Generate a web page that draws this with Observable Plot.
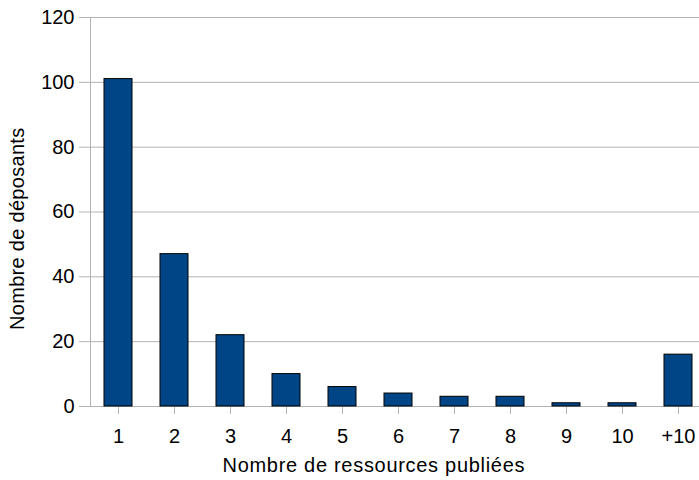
<!DOCTYPE html>
<html>
<head>
<meta charset="utf-8">
<script src="https://cdn.jsdelivr.net/npm/d3@7"></script>
<script src="https://cdn.jsdelivr.net/npm/@observablehq/plot@0.6"></script>
<style>
  html, body { margin: 0; padding: 0; background: #fff; }
  #chart svg { display: block; }
</style>
</head>
<body>
<div id="chart"></div>
<script>
const categories = ["1", "2", "3", "4", "5", "6", "7", "8", "9", "10", "+10"];
const counts = [101, 47, 22, 10, 6, 4, 3, 3, 1, 1, 16];
const yTicks = [0, 20, 40, 60, 80, 100, 120];
const xTitle = "Nombre de ressources publiées";
const yTitle = "Nombre de déposants";

const data = categories.map((c, i) => ({cat: c, n: counts[i]}));
const grey = "#b3b3b3";
const font = "Liberation Sans, Arial, sans-serif";

const chart = Plot.plot({
  width: 699,
  height: 480,
  marginLeft: 90,
  marginRight: 0,
  marginTop: 17,
  marginBottom: 74,
  style: {fontFamily: font, fontSize: "20px", color: "#000", background: "#fff"},
  x: {type: "band", domain: categories, range: [90, 706], paddingInner: 0.5, paddingOuter: 0.25, label: null},
  y: {domain: [0, 120], label: null},
  marks: [
    Plot.gridY(yTicks, {stroke: grey, strokeOpacity: 1, strokeWidth: 1}),
    Plot.axisY(yTicks, {tickSize: 11, tickPadding: 5, stroke: grey, strokeOpacity: 1, fill: "#000", fontSize: 20}),
    Plot.axisX({tickSize: 8, tickPadding: 14, stroke: grey, strokeOpacity: 1, fill: "#000", fontSize: 20}),
    Plot.frame({anchor: "left", stroke: grey}),
    Plot.barY(data, {x: "cat", y: "n", fill: "#004586", stroke: "#000", strokeWidth: 1}),
    Plot.text([xTitle], {frameAnchor: "bottom-left", textAnchor: "start", dx: 132, dy: 65, fontSize: 20, fill: "#000"}),
    Plot.text([yTitle], {frameAnchor: "left", textAnchor: "start", dx: -73, dy: 118, rotate: -90, fontSize: 20, fill: "#000"})
  ]
});
d3.select(chart).selectAll("text").each(function() {
  const t = this.textContent;
  if (t === xTitle) this.setAttribute("letter-spacing", "0.7");
  if (t === yTitle) this.setAttribute("letter-spacing", "0.3");
});
document.getElementById("chart").appendChild(chart);
</script>
</body>
</html>
